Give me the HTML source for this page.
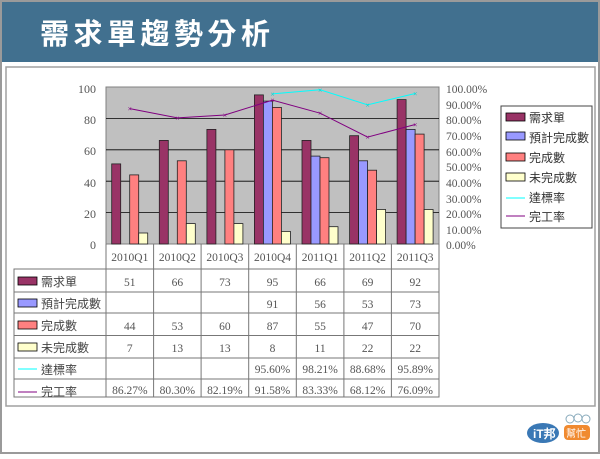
<!DOCTYPE html>
<html><head><meta charset="utf-8"><style>
html,body{margin:0;padding:0;background:#fff}
body{width:600px;height:454px;overflow:hidden;position:relative}
</style></head><body>
<svg width="600" height="454" xmlns="http://www.w3.org/2000/svg" font-family="Liberation Serif, Noto Serif CJK SC, serif">
<rect x="0" y="0" width="600" height="454" fill="#fff"/>
<rect x="1" y="1" width="598" height="452" fill="none" stroke="#9a9a9a" stroke-width="2"/>
<rect x="2" y="2" width="596" height="60" fill="#41708f"/>
<text x="40" y="44" font-size="29" fill="#fff" font-weight="bold" font-family="Liberation Sans, Noto Sans CJK TC, sans-serif" letter-spacing="4.5">需求單趨勢分析</text>
<rect x="6" y="67" width="589" height="339" fill="#fff" stroke="#a0a0a0" stroke-width="1.5"/>
<rect x="106" y="87" width="333" height="157" fill="#c0c0c0" stroke="#808080"/>
<g stroke="#000" stroke-width="0.8">
<line x1="106" y1="118.4" x2="439" y2="118.4"/><line x1="106" y1="149.8" x2="439" y2="149.8"/>
<line x1="106" y1="181.2" x2="439" y2="181.2"/><line x1="106" y1="212.6" x2="439" y2="212.6"/>
</g>
<g font-size="12" fill="#555" text-anchor="end">
<text x="96" y="93">100</text><text x="96" y="124">80</text><text x="96" y="155">60</text><text x="96" y="187">40</text><text x="96" y="218">20</text><text x="96" y="249">0</text>
</g>
<g font-size="11.5" fill="#555">
<text x="446" y="93">100.00%</text><text x="446" y="109">90.00%</text><text x="446" y="124">80.00%</text><text x="446" y="140">70.00%</text><text x="446" y="156">60.00%</text><text x="446" y="171">50.00%</text><text x="446" y="187">40.00%</text><text x="446" y="203">30.00%</text><text x="446" y="218">20.00%</text><text x="446" y="234">10.00%</text><text x="446" y="249">0.00%</text>
</g>
<g stroke="#222" stroke-width="0.8">
<rect x="111.7" y="163.9" width="9" height="80.1" fill="#993366"/>
<rect x="129.7" y="174.9" width="9" height="69.1" fill="#ff8080"/>
<rect x="138.7" y="233" width="9" height="11" fill="#ffffcc"/>
<rect x="159.3" y="140.4" width="9" height="103.6" fill="#993366"/>
<rect x="177.3" y="160.8" width="9" height="83.2" fill="#ff8080"/>
<rect x="186.3" y="223.6" width="9" height="20.4" fill="#ffffcc"/>
<rect x="206.9" y="129.4" width="9" height="114.6" fill="#993366"/>
<rect x="224.9" y="149.8" width="9" height="94.2" fill="#ff8080"/>
<rect x="233.9" y="223.6" width="9" height="20.4" fill="#ffffcc"/>
<rect x="254.4" y="94.9" width="9" height="149.1" fill="#993366"/>
<rect x="263.4" y="101.1" width="9" height="142.9" fill="#9999ff"/>
<rect x="272.4" y="107.4" width="9" height="136.6" fill="#ff8080"/>
<rect x="281.4" y="231.4" width="9" height="12.6" fill="#ffffcc"/>
<rect x="302" y="140.4" width="9" height="103.6" fill="#993366"/>
<rect x="311" y="156.1" width="9" height="87.9" fill="#9999ff"/>
<rect x="320" y="157.7" width="9" height="86.3" fill="#ff8080"/>
<rect x="329" y="226.7" width="9" height="17.3" fill="#ffffcc"/>
<rect x="349.6" y="135.7" width="9" height="108.3" fill="#993366"/>
<rect x="358.6" y="160.8" width="9" height="83.2" fill="#9999ff"/>
<rect x="367.6" y="170.2" width="9" height="73.8" fill="#ff8080"/>
<rect x="376.6" y="209.5" width="9" height="34.5" fill="#ffffcc"/>
<rect x="397.1" y="99.6" width="9" height="144.4" fill="#993366"/>
<rect x="406.1" y="129.4" width="9" height="114.6" fill="#9999ff"/>
<rect x="415.1" y="134.1" width="9" height="109.9" fill="#ff8080"/>
<rect x="424.1" y="209.5" width="9" height="34.5" fill="#ffffcc"/>
</g>
<polyline points="272.5,93.9 320.1,89.8 367.6,104.8 415.2,93.5" fill="none" stroke="#00ffff" stroke-width="1"/>
<polyline points="129.8,108.6 177.4,117.9 224.9,115 272.5,100.2 320.1,113.2 367.6,137.1 415.2,124.5" fill="none" stroke="#800080" stroke-width="1"/>
<g font-size="8" fill="#800080" text-anchor="middle">
<text x="129.8" y="111.5">×</text><text x="177.4" y="120.8">×</text><text x="224.9" y="118">×</text><text x="272.5" y="103">×</text><text x="320.1" y="116">×</text><text x="367.6" y="140">×</text><text x="415.2" y="127.5">×</text>
</g>
<g font-size="8" fill="#00cccc" text-anchor="middle">
<text x="272.5" y="97">×</text><text x="320.1" y="93">×</text><text x="367.6" y="108">×</text><text x="415.2" y="96.5">×</text>
</g>
<rect x="501" y="106" width="91" height="122" fill="#fff" stroke="#444"/>
<g stroke="#000" stroke-width="0.8">
<rect x="506" y="113" width="19" height="8" fill="#993366"/>
<rect x="506" y="132" width="19" height="8" fill="#9999ff"/>
<rect x="506" y="153" width="19" height="8" fill="#ff8080"/>
<rect x="506" y="173" width="19" height="8" fill="#ffffcc"/>
</g>
<line x1="506" y1="198" x2="525" y2="198" stroke="#00ffff"/>
<line x1="506" y1="216" x2="525" y2="216" stroke="#800080"/>
<g font-size="12" fill="#333" font-family="Liberation Sans, Noto Sans CJK TC, sans-serif">
<text x="529" y="122">需求單</text><text x="529" y="142">預計完成數</text><text x="529" y="162">完成數</text><text x="529" y="182">未完成數</text><text x="529" y="202">達標率</text><text x="529" y="221">完工率</text>
</g>
<g stroke="#777" stroke-width="1" fill="none">
<rect x="14" y="269" width="425" height="128"/>
<line x1="106" y1="244" x2="106" y2="397"/><line x1="153.6" y1="244" x2="153.6" y2="397"/><line x1="201.1" y1="244" x2="201.1" y2="397"/><line x1="248.7" y1="244" x2="248.7" y2="397"/><line x1="296.3" y1="244" x2="296.3" y2="397"/><line x1="343.9" y1="244" x2="343.9" y2="397"/><line x1="391.4" y1="244" x2="391.4" y2="397"/><line x1="439" y1="244" x2="439" y2="397"/>
<line x1="14" y1="292" x2="439" y2="292"/><line x1="14" y1="313" x2="439" y2="313"/><line x1="14" y1="335.5" x2="439" y2="335.5"/><line x1="14" y1="358" x2="439" y2="358"/><line x1="14" y1="379" x2="439" y2="379"/>
</g>
<g font-size="11.5" fill="#555" text-anchor="middle">
<text x="129.8" y="261">2010Q1</text><text x="177.4" y="261">2010Q2</text><text x="224.9" y="261">2010Q3</text><text x="272.5" y="261">2010Q4</text><text x="320.1" y="261">2011Q1</text><text x="367.6" y="261">2011Q2</text><text x="415.2" y="261">2011Q3</text>
<text x="129.8" y="286">51</text><text x="177.4" y="286">66</text><text x="224.9" y="286">73</text><text x="272.5" y="286">95</text><text x="320.1" y="286">66</text><text x="367.6" y="286">69</text><text x="415.2" y="286">92</text>
<text x="272.5" y="308">91</text><text x="320.1" y="308">56</text><text x="367.6" y="308">53</text><text x="415.2" y="308">73</text>
<text x="129.8" y="330">44</text><text x="177.4" y="330">53</text><text x="224.9" y="330">60</text><text x="272.5" y="330">87</text><text x="320.1" y="330">55</text><text x="367.6" y="330">47</text><text x="415.2" y="330">70</text>
<text x="129.8" y="352">7</text><text x="177.4" y="352">13</text><text x="224.9" y="352">13</text><text x="272.5" y="352">8</text><text x="320.1" y="352">11</text><text x="367.6" y="352">22</text><text x="415.2" y="352">22</text>
<text x="272.5" y="373">95.60%</text><text x="320.1" y="373">98.21%</text><text x="367.6" y="373">88.68%</text><text x="415.2" y="373">95.89%</text>
<text x="129.8" y="394">86.27%</text><text x="177.4" y="394">80.30%</text><text x="224.9" y="394">82.19%</text><text x="272.5" y="394">91.58%</text><text x="320.1" y="394">83.33%</text><text x="367.6" y="394">68.12%</text><text x="415.2" y="394">76.09%</text>
</g>
<g stroke="#000" stroke-width="0.8">
<rect x="18" y="277" width="19" height="8" fill="#993366"/>
<rect x="18" y="299" width="19" height="8" fill="#9999ff"/>
<rect x="18" y="321" width="19" height="8" fill="#ff8080"/>
<rect x="18" y="343" width="19" height="8" fill="#ffffcc"/>
</g>
<line x1="18" y1="369" x2="37" y2="369" stroke="#00ffff"/>
<line x1="18" y1="392" x2="37" y2="392" stroke="#800080"/>
<g font-size="12" fill="#444" font-family="Liberation Sans, Noto Sans CJK TC, sans-serif">
<text x="41" y="286">需求單</text><text x="41" y="308">預計完成數</text><text x="41" y="330">完成數</text><text x="41" y="352">未完成數</text><text x="41" y="374">達標率</text>
</g>
<svg x="14" y="379" width="90" height="18"><text x="27" y="17" font-size="12" fill="#444" font-family="Liberation Sans, Noto Sans CJK TC, sans-serif">完工率</text></svg>
<ellipse cx="543" cy="433" rx="16" ry="10" fill="#3a78b5"/>
<text x="533" y="438" font-size="12" font-weight="bold" fill="#fff" font-family="Liberation Sans, sans-serif">iT邦</text>
<rect x="564" y="425" width="26" height="15" rx="4" fill="#f08a30"/>
<text x="566" y="437" font-size="10" fill="#fff" font-family="Noto Sans CJK TC, sans-serif">幫忙</text>
<circle cx="570" cy="419" r="4" fill="none" stroke="#8ab"/><circle cx="578" cy="418" r="4" fill="none" stroke="#8ab"/><circle cx="586" cy="419" r="4" fill="none" stroke="#8ab"/>
</svg>
</body></html>
